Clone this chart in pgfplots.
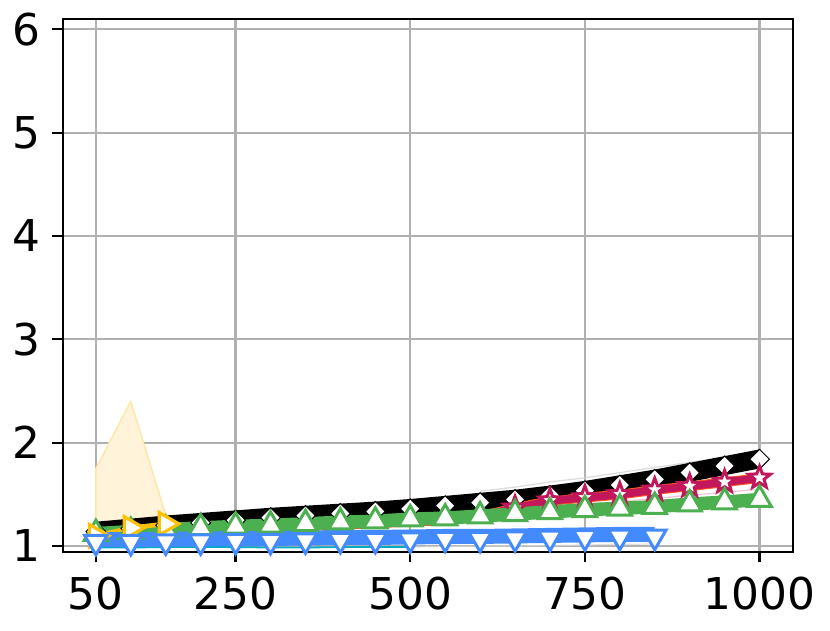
\documentclass[border=0pt]{standalone}
\usepackage{fontspec}
\setmainfont{DejaVu Sans}
\usepackage{pgfplots}
\pgfplotsset{compat=1.18}
\usepackage{pgfplotstable}
\usepgfplotslibrary{fillbetween}
\definecolor{cgreen}{HTML}{4CAF50}
\definecolor{cblue}{HTML}{448AFF}
\definecolor{ccrim}{HTML}{C2185B}
\definecolor{corange}{HTML}{FF5722}
\definecolor{camber}{HTML}{FFC107}
\definecolor{cteal}{HTML}{00ACC1}
\definecolor{cgrid}{HTML}{B0B0B0}
\definecolor{cband}{HTML}{FFF4DA}
\definecolor{cbandedge}{HTML}{FFE7A8}

\pgfdeclareplotmark{fstar}{%
  \pgfpathmoveto{\pgfpointpolar{90}{\pgfplotmarksize}}%
  \pgfpathlineto{\pgfpointpolar{126}{0.42\pgfplotmarksize}}%
  \pgfpathlineto{\pgfpointpolar{162}{\pgfplotmarksize}}%
  \pgfpathlineto{\pgfpointpolar{198}{0.42\pgfplotmarksize}}%
  \pgfpathlineto{\pgfpointpolar{234}{\pgfplotmarksize}}%
  \pgfpathlineto{\pgfpointpolar{270}{0.42\pgfplotmarksize}}%
  \pgfpathlineto{\pgfpointpolar{306}{\pgfplotmarksize}}%
  \pgfpathlineto{\pgfpointpolar{342}{0.42\pgfplotmarksize}}%
  \pgfpathlineto{\pgfpointpolar{18}{\pgfplotmarksize}}%
  \pgfpathlineto{\pgfpointpolar{54}{0.42\pgfplotmarksize}}%
  \pgfpathclose
  \pgfusepathqfillstroke}

\pgfplotstableread{
x y
50 1.14
100 1.17
150 1.20
200 1.225
250 1.25
300 1.275
350 1.295
400 1.315
450 1.335
500 1.36
550 1.39
600 1.42
650 1.45
700 1.49
750 1.535
800 1.59
850 1.645
900 1.71
950 1.775
1000 1.84
}\tblack

\pgfplotstableread{
x y
50 1.12
100 1.14
150 1.16
200 1.175
250 1.19
300 1.20
350 1.215
400 1.23
450 1.24
500 1.26
550 1.27
600 1.29
650 1.31
700 1.33
750 1.35
800 1.365
850 1.38
900 1.405
950 1.425
1000 1.45
}\tgreen

\pgfplotstableread{
x y
50 1.10
100 1.12
150 1.14
200 1.155
250 1.17
300 1.18
350 1.195
400 1.21
450 1.22
500 1.24
550 1.25
600 1.29
650 1.37
700 1.44
750 1.47
800 1.50
850 1.545
900 1.58
950 1.62
1000 1.66
}\tcrim

\pgfplotstableread{
x y
50 1.04
100 1.04
150 1.045
200 1.045
250 1.05
300 1.05
350 1.055
400 1.06
450 1.06
500 1.065
550 1.07
600 1.07
650 1.075
700 1.08
750 1.085
800 1.09
850 1.09
}\tblue

\pgfplotstableread{
x y
50 1.10
100 1.175
150 1.215
}\tyellow

\begin{document}
\begin{tikzpicture}
\begin{axis}[
  set layers,
  scale only axis, width=730bp, height=532.7bp,
  xmin=2.5, xmax=1047.5, ymin=0.945, ymax=6.1,
  xtick={50,250,500,750,1000}, ytick={1,2,3,4,5,6},
  xtick pos=left, ytick pos=left,
  grid=major, major grid style={cgrid, line width=2.2bp},
  axis line style={line width=2.3bp},
  tick align=outside, major tick length=10.5bp,
  tick style={black, line width=2.3bp},
  tick label style={font=\fontsize{44}{52}\selectfont, inner sep=0pt},
  yticklabel style={xshift=-12bp},
  xticklabel style={yshift=-15bp},
  /pgf/number format/assume math mode=true,
  /pgf/number format/1000 sep={},
  fill between/on layer=main,
]
% yellow band
\addplot[fill=cband, draw=cbandedge, line width=1.5bp, forget plot] coordinates {(50,1.0) (50,1.75) (100,2.40) (150,1.30) (150,1.10) (100,1.04) (50,1.0)};
% faint gray run lines
\addplot[gray!35, line width=1.2bp, opacity=0.8] coordinates {(600,1.53) (650,1.57) (700,1.62) (750,1.66) (800,1.71) (850,1.76) (900,1.81) (950,1.86) (1000,1.91)};
\addplot[gray!30, line width=1.2bp, opacity=0.8] coordinates {(500,0.99) (550,0.995) (600,1.0) (650,1.0) (700,1.005) (750,1.01) (800,1.015) (850,1.02)};
% teal
\addplot[cteal, line width=1.8bp] coordinates {(50,0.985) (100,0.985) (150,0.99) (200,0.99) (250,0.99) (300,0.985) (350,0.985) (400,0.99) (450,0.99) (500,0.99)};
% black band
\addplot[name path=bkU, draw=none, forget plot] table[x=x, y expr=\thisrow{y}+0.095]{\tblack};
\addplot[name path=bkL, draw=none, forget plot] table[x=x, y expr=\thisrow{y}-0.09]{\tblack};
\addplot[black, forget plot] fill between[of=bkU and bkL];
% orange + crimson bands
\addplot[name path=orU, draw=none, forget plot] table[x=x, y expr=\thisrow{y}+0.045]{\tcrim};
\addplot[name path=orL, draw=none, forget plot] table[x=x, y expr=\thisrow{y}-0.05]{\tcrim};
\addplot[corange, forget plot] fill between[of=orU and orL];
\addplot[ccrim!25, line width=1.2bp] coordinates {(750,1.40) (800,1.43) (850,1.46) (900,1.49) (950,1.52) (1000,1.55)};
\addplot[name path=crU, draw=none, forget plot] table[x=x, y expr=\thisrow{y}+0.035]{\tcrim};
\addplot[name path=crL, draw=none, forget plot] table[x=x, y expr=\thisrow{y}-0.04]{\tcrim};
\addplot[ccrim, forget plot] fill between[of=crU and crL];
% black line + diamonds
\addplot[black, line width=3bp, mark=square*, mark size=7bp,
  mark options={rotate=45, fill=white, draw=black, line width=1bp, solid}] table[x=x,y=y]{\tblack};
% crimson line + stars (stars visible only where the line leaves the green band)
\addplot[ccrim, line width=3bp] table[x=x,y=y]{\tcrim};
\addplot[only marks, restrict x to domain=650:1000, mark=fstar, mark size=11.5bp,
  mark options={fill=white, draw=ccrim, line width=3bp, solid}, forget plot] table[x=x,y=y]{\tcrim};
% green band + line
\addplot[name path=gU, draw=none, forget plot] table[x=x, y expr=\thisrow{y}+0.065]{\tgreen};
\addplot[name path=gL, draw=none, forget plot] table[x=x, y expr=\thisrow{y}-0.065]{\tgreen};
\addplot[cgreen, forget plot] fill between[of=gU and gL];
\addplot[cgreen, line width=3bp, mark=triangle*, mark size=13.5bp,
  mark options={fill=white, draw=cgreen, line width=3bp, solid}] table[x=x,y=y]{\tgreen};
% yellow
\addplot[camber, line width=4.5bp, mark=triangle*, mark size=13bp,
  mark options={rotate=-90, fill=white, draw=camber, line width=3.2bp, solid}] table[x=x,y=y]{\tyellow};
% blue band + line
\addplot[name path=bU, draw=none, forget plot] table[x=x, y expr=\thisrow{y}+0.095]{\tblue};
\addplot[name path=bL, draw=none, forget plot] table[x=x, y expr=\thisrow{y}-0.05]{\tblue};
\addplot[cblue, forget plot] fill between[of=bU and bL];
\addplot[cblue, line width=3bp, mark=triangle*, mark size=13bp,
  mark options={rotate=180, fill=white, draw=cblue, line width=3bp, solid}] table[x=x,y=y]{\tblue};
\end{axis}
\path ([shift={(-62.7bp,-79.3bp)}]current axis.south west) rectangle ([shift={(37.3bp,19bp)}]current axis.north east);
\end{tikzpicture}
\end{document}
